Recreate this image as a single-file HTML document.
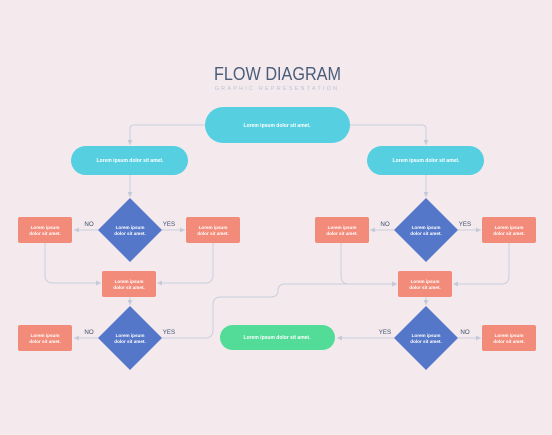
<!DOCTYPE html>
<html><head><meta charset="utf-8"><style>
body{margin:0;width:552px;height:430px;background:#f4eaed;font-family:"Liberation Sans",sans-serif;overflow:hidden}
</style></head><body>
<svg width="552" height="430" xmlns="http://www.w3.org/2000/svg" font-family="Liberation Sans, sans-serif">
<defs><marker id="a" markerWidth="6" markerHeight="6" refX="5" refY="3" orient="auto"><path d="M0,0.5 L5,3 L0,5.5z" fill="#c5cad9"/></marker></defs>
<rect width="552" height="430" fill="#f4eaed"/>
<text x="214" y="80" textLength="127" lengthAdjust="spacingAndGlyphs" font-size="18" fill="#4a5d7a">FLOW DIAGRAM</text>
<text x="277" y="90" text-anchor="middle" font-size="5.5" fill="#bcc3d3" letter-spacing="2.2">GRAPHIC REPRESENTATION</text>
<g fill="none" stroke="#c9cedd" stroke-width="1">
<path d="M205 125H134Q130 125 130 129V145" marker-end="url(#a)"/>
<path d="M350 125H422Q426 125 426 129V145" marker-end="url(#a)"/>
<path d="M130 175V197" marker-end="url(#a)"/>
<path d="M426 175V197" marker-end="url(#a)"/>
<path d="M98 230H74" marker-end="url(#a)"/><path d="M162 230H185" marker-end="url(#a)"/>
<path d="M394 230H370" marker-end="url(#a)"/><path d="M458 230H481" marker-end="url(#a)"/>
<path d="M45 243V275Q45 283 53 283H101" marker-end="url(#a)"/>
<path d="M213 243V275Q213 283 205 283H157" marker-end="url(#a)"/>
<path d="M341 243V276Q341 284 349 284H397" marker-end="url(#a)"/>
<path d="M509 243V276Q509 284 501 284H453" marker-end="url(#a)"/>
<path d="M130 297V305" marker-end="url(#a)"/><path d="M426 297V305" marker-end="url(#a)"/>
<path d="M98 338H74" marker-end="url(#a)"/>
<path d="M162 338H205Q213 338 213 330V305Q213 297 221 297H270Q278 297 278 291V290Q278 284 286 284H397" marker-end="url(#a)"/>
<path d="M394 338H337" marker-end="url(#a)"/><path d="M458 338H481" marker-end="url(#a)"/>
</g>
<g font-size="6.2" fill="#3e4f6a" text-anchor="middle">
<text x="89" y="226">NO</text><text x="169" y="226">YES</text>
<text x="385" y="226">NO</text><text x="465" y="226">YES</text>
<text x="89" y="334">NO</text><text x="169" y="334">YES</text>
<text x="385" y="334">YES</text><text x="465" y="334">NO</text>
</g>
<rect x="205" y="107" width="145" height="36" rx="18" fill="#56cfe0"/>
<rect x="71" y="146" width="117" height="29" rx="14.5" fill="#56cfe0"/>
<rect x="367" y="146" width="117" height="29" rx="14.5" fill="#56cfe0"/>
<rect x="220" y="325" width="115" height="25" rx="12.5" fill="#52dc98"/>
<g fill="#f38b7a">
<rect x="18" y="217" width="54" height="26" rx="2"/><rect x="186" y="217" width="54" height="26" rx="2"/>
<rect x="315" y="217" width="54" height="26" rx="2"/><rect x="482" y="217" width="54" height="26" rx="2"/>
<rect x="102" y="271" width="54" height="26" rx="2"/><rect x="398" y="271" width="54" height="26" rx="2"/>
<rect x="18" y="325" width="54" height="26" rx="2"/><rect x="482" y="325" width="54" height="26" rx="2"/>
</g>
<g fill="#5577c9">
<path d="M130 198L162 230L130 262L98 230z"/><path d="M426 198L458 230L426 262L394 230z"/>
<path d="M130 306L162 338L130 370L98 338z"/><path d="M426 306L458 338L426 370L394 338z"/>
</g>
<g fill="#fff" font-size="5" font-weight="bold" text-anchor="middle">
<text x="277" y="127">Lorem ipsum dolor sit amet.</text>
<text x="130" y="162">Lorem ipsum dolor sit amet.</text>
<text x="426" y="162">Lorem ipsum dolor sit amet.</text>
<text x="277" y="339">Lorem ipsum dolor sit amet.</text>
<g font-size="4.6">
<text x="45" y="229">Lorem ipsum</text><text x="45" y="235">dolor sit amet.</text>
<text x="213" y="229">Lorem ipsum</text><text x="213" y="235">dolor sit amet.</text>
<text x="342" y="229">Lorem ipsum</text><text x="342" y="235">dolor sit amet.</text>
<text x="509" y="229">Lorem ipsum</text><text x="509" y="235">dolor sit amet.</text>
<text x="129" y="283">Lorem ipsum</text><text x="129" y="289">dolor sit amet.</text>
<text x="425" y="283">Lorem ipsum</text><text x="425" y="289">dolor sit amet.</text>
<text x="45" y="337">Lorem ipsum</text><text x="45" y="343">dolor sit amet.</text>
<text x="509" y="337">Lorem ipsum</text><text x="509" y="343">dolor sit amet.</text>
<text x="130" y="229">Lorem ipsum</text><text x="130" y="235">dolor sit amet.</text>
<text x="426" y="229">Lorem ipsum</text><text x="426" y="235">dolor sit amet.</text>
<text x="130" y="337">Lorem ipsum</text><text x="130" y="343">dolor sit amet.</text>
<text x="426" y="337">Lorem ipsum</text><text x="426" y="343">dolor sit amet.</text>
</g></g>
</svg>
</body></html>
